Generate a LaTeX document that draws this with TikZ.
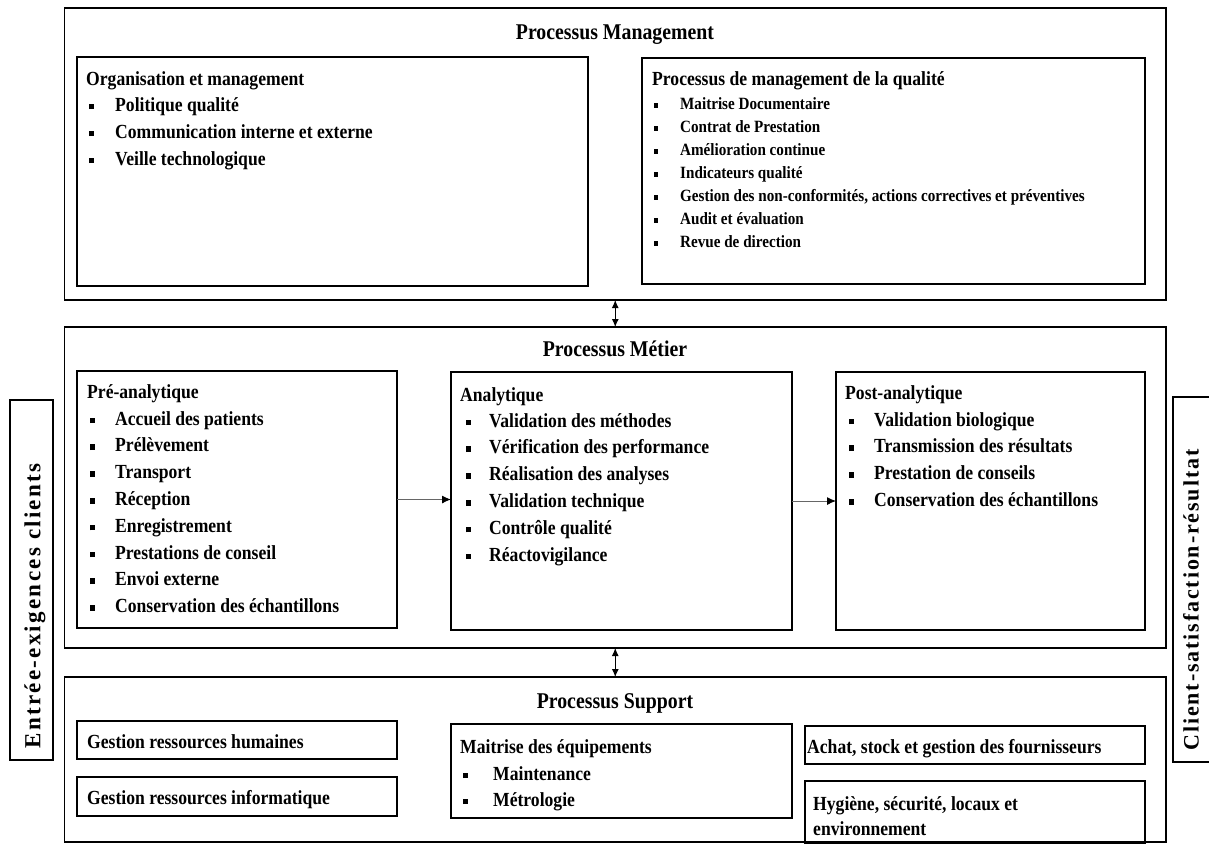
\documentclass[tikz,border=0pt]{standalone}
\usepackage{fontspec}
\setmainfont{Liberation Serif}[FakeStretch=0.88]
\newfontfamily\sidefontA{Liberation Serif}[LetterSpace=10]
\newfontfamily\sidefontB{Liberation Serif}[LetterSpace=8.5]
\usetikzlibrary{arrows.meta}
\newcommand{\bul}{\rule[1.8pt]{4.3pt}{5.6pt}}
\newcommand{\sbul}{\rule[1.5pt]{3.8pt}{5pt}}
\tikzset{
  outerbox/.style={draw=black, line width=1.8pt, anchor=north west, inner sep=0pt, outer sep=0pt},
  innerbox/.style={draw=black, line width=1.5pt, anchor=north west, inner sep=0pt, outer sep=0pt},
  titletxt/.style={anchor=base, inner sep=0pt, font=\fontsize{22.5}{24}\selectfont\bfseries},
  txt/.style={anchor=base west, inner sep=0pt, font=\fontsize{20}{22}\selectfont\bfseries},
  stxt/.style={anchor=base west, inner sep=0pt, font=\fontsize{17.2}{19}\selectfont\bfseries},
  sidetxt/.style={rotate=90, anchor=center, inner sep=0pt},
  flowarrow/.style={line width=0.9pt, draw=black!60, -{Latex[length=9pt,width=8pt,black]}},
  dblarrow/.style={line width=1pt, {Latex[length=8pt,width=7pt]}-{Latex[length=8pt,width=7pt]}},
}
\begin{document}
\begin{tikzpicture}[x=1pt,y=-1pt]
\useasboundingbox (0,0) rectangle (1209,844);
\clip (0,0) rectangle (1209,844);
\fill[white] (0,0) rectangle (1209,844);

% ---------- Processus Management ----------
\node[outerbox, minimum width=1101.5pt, minimum height=292pt] (mgmt) at (64.5,8) {};
\node[titletxt] (tmgmt) at (615,39) {Processus Management};
\node[innerbox, minimum width=511pt, minimum height=229pt] (org) at (77,57) {};
\node[txt] (orgh) at (86,85) {Organisation et management};
\node[txt] (org1) at (89,111) {\makebox[26pt][l]{\bul}Politique qualité};
\node[txt] (org2) at (89,138) {\makebox[26pt][l]{\bul}Communication interne et externe};
\node[txt] (org3) at (89,165) {\makebox[26pt][l]{\bul}Veille technologique};

\node[innerbox, minimum width=503pt, minimum height=226pt] (pmq) at (642,58) {};
\node[txt] (pmqh) at (652,85) {Processus de management de la qualité};
\node[stxt] (pmq1) at (654,109) {\makebox[26pt][l]{\sbul}Maitrise Documentaire};
\node[stxt] (pmq2) at (654,132) {\makebox[26pt][l]{\sbul}Contrat de Prestation};
\node[stxt] (pmq3) at (654,155) {\makebox[26pt][l]{\sbul}Amélioration continue};
\node[stxt] (pmq4) at (654,178) {\makebox[26pt][l]{\sbul}Indicateurs qualité};
\node[stxt] (pmq5) at (654,201) {\makebox[26pt][l]{\sbul}Gestion des non-conformités, actions correctives et préventives};
\node[stxt] (pmq6) at (654,224) {\makebox[26pt][l]{\sbul}Audit et évaluation};
\node[stxt] (pmq7) at (654,247) {\makebox[26pt][l]{\sbul}Revue de direction};

% ---------- Processus Métier ----------
\node[outerbox, minimum width=1101.5pt, minimum height=321pt] (metier) at (64.5,327) {};
\node[titletxt] (tmetier) at (615,356) {Processus Métier};

\node[innerbox, minimum width=320pt, minimum height=257pt] (pre) at (77,371) {};
\node[txt] (preh) at (87,398) {Pré-analytique};
\node[txt] (pre1) at (90,425) {\makebox[25pt][l]{\bul}Accueil des patients};
\node[txt] (pre2) at (90,451.8) {\makebox[25pt][l]{\bul}Prélèvement};
\node[txt] (pre3) at (90,478.6) {\makebox[25pt][l]{\bul}Transport};
\node[txt] (pre4) at (90,505.4) {\makebox[25pt][l]{\bul}Réception};
\node[txt] (pre5) at (90,532.2) {\makebox[25pt][l]{\bul}Enregistrement};
\node[txt] (pre6) at (90,559) {\makebox[25pt][l]{\bul}Prestations de conseil};
\node[txt] (pre7) at (90,585.8) {\makebox[25pt][l]{\bul}Envoi externe};
\node[txt] (pre8) at (90,612.6) {\makebox[25pt][l]{\bul}Conservation des échantillons};

\node[innerbox, minimum width=341pt, minimum height=258pt] (ana) at (451,372) {};
\node[txt] (anah) at (460,401) {Analytique};
\node[txt] (ana1) at (466,427) {\makebox[23pt][l]{\bul}Validation des méthodes};
\node[txt] (ana2) at (466,453.8) {\makebox[23pt][l]{\bul}Vérification des performance};
\node[txt] (ana3) at (466,480.6) {\makebox[23pt][l]{\bul}Réalisation des analyses};
\node[txt] (ana4) at (466,507.4) {\makebox[23pt][l]{\bul}Validation technique};
\node[txt] (ana5) at (466,534.2) {\makebox[23pt][l]{\bul}Contrôle qualité};
\node[txt] (ana6) at (466,561) {\makebox[23pt][l]{\bul}Réactovigilance};

\node[innerbox, minimum width=309pt, minimum height=258pt] (post) at (836,372) {};
\node[txt] (posth) at (845,399) {Post-analytique};
\node[txt] (post1) at (849,426) {\makebox[25pt][l]{\bul}Validation biologique};
\node[txt] (post2) at (849,452.8) {\makebox[25pt][l]{\bul}Transmission des résultats};
\node[txt] (post3) at (849,479.6) {\makebox[25pt][l]{\bul}Prestation de conseils};
\node[txt] (post4) at (849,506.4) {\makebox[25pt][l]{\bul}Conservation des échantillons};

% ---------- Processus Support ----------
\node[outerbox, minimum width=1101.5pt, minimum height=165pt] (support) at (64.5,677) {};
\node[titletxt] (tsupport) at (615,708) {Processus Support};

\node[innerbox, minimum width=320pt, minimum height=38pt] (grh) at (77,721) {};
\node[txt] (grht) at (87,748) {Gestion ressources humaines};
\node[innerbox, minimum width=320pt, minimum height=39pt] (gri) at (77,777) {};
\node[txt] (grit) at (87,804) {Gestion ressources informatique};

\node[innerbox, minimum width=341pt, minimum height=94pt] (mait) at (451,724) {};
\node[txt] (maith) at (460,753) {Maitrise des équipements};
\node[txt] (mait1) at (463,780) {\makebox[30pt][l]{\bul}Maintenance};
\node[txt] (mait2) at (463,806) {\makebox[30pt][l]{\bul}Métrologie};

\node[innerbox, minimum width=340pt, minimum height=38pt] (achat) at (805,726) {};
\node[txt] (achatt) at (807,753) {Achat, stock et gestion des fournisseurs};
\node[innerbox, minimum width=340pt, minimum height=62pt] (hyg) at (805,781) {};
\node[txt] (hygt1) at (813,810) {Hygiène, sécurité, locaux et};
\node[txt] (hygt2) at (813,835) {environnement};

% ---------- side labels ----------
\node[innerbox, minimum width=43pt, minimum height=360pt] (entree) at (10,400) {};
\node[sidetxt, font=\sidefontA\bfseries\fontsize{23}{24}\selectfont] (entreet) at (35,606) {Entrée-exigences clients};
\node[innerbox, minimum width=42pt, minimum height=365pt] (client) at (1173,397) {};
\node[sidetxt, font=\sidefontB\bfseries\fontsize{22}{24}\selectfont] (clientt) at (1191,600) {Client-satisfaction-résultat};

% ---------- connectors ----------
\draw[dblarrow] (mgmt.south) -- (metier.north);
\draw[dblarrow] (metier.south) -- (support.north);
\draw[flowarrow] (pre.east) -- (pre.east -| ana.west);
\draw[flowarrow] (ana.east) -- (ana.east -| post.west);
\end{tikzpicture}
\end{document}
